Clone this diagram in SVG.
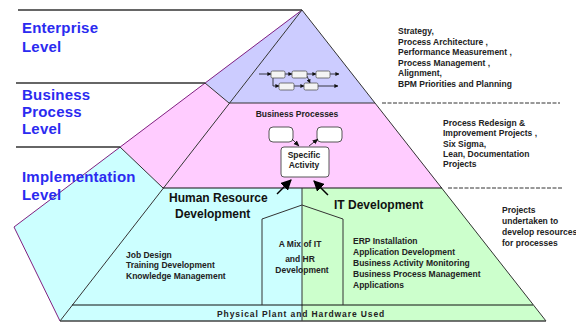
<svg xmlns="http://www.w3.org/2000/svg" width="576" height="322" viewBox="0 0 576 322">
<defs>
<marker id="ah" viewBox="0 0 10 10" refX="9" refY="5" markerWidth="6" markerHeight="6" orient="auto-start-reverse" markerUnits="userSpaceOnUse"><path d="M0,1 L10,5 L0,9 z" fill="#111"/></marker>
<marker id="big" viewBox="0 0 10 10" refX="9" refY="5" markerWidth="11" markerHeight="11" orient="auto" markerUnits="userSpaceOnUse"><path d="M0,0 L10,5 L0,10 z" fill="#000"/></marker>
<marker id="sm" viewBox="0 0 10 10" refX="9" refY="5" markerWidth="4" markerHeight="4" orient="auto" markerUnits="userSpaceOnUse"><path d="M0,0 L10,5 L0,10 z" fill="#111"/></marker>
</defs>
<style>
.lvl{font-family:"Liberation Sans",Arial,sans-serif;font-weight:bold;font-size:15px;fill:#2b2bf0;letter-spacing:0.2px}
.t{font-family:"Liberation Sans",Arial,sans-serif;font-weight:bold;font-size:8.5px;fill:#222}
.big{font-family:"Liberation Sans",Arial,sans-serif;font-weight:bold;font-size:12px;fill:#111}
.edge{fill:none;stroke:#333;stroke-width:1}
.hl{stroke:#333;stroke-width:1.3}
.dash{stroke:#333;stroke-width:1;stroke-dasharray:4,1.5}
.mb{fill:#f4f4f4;stroke:#555;stroke-width:0.8}
.mbl{stroke:#111;stroke-width:0.8;fill:none}
.box{fill:#fff;stroke:#444;stroke-width:0.9}
</style>
<rect width="576" height="322" fill="#fff"/>
<g id="pyramid">
<polygon points="302,10 205,83 229,103" fill="#ccccff"/>
<polygon points="205,83 120,147 163,188 229,103" fill="#ffccff"/>
<polygon points="120,147 14,227 60,321 163,188" fill="#ccffff"/>
<polygon points="302,10 229,103 375,103" fill="#ccccff"/>
<polygon points="229,103 163,188 442,188 375,103" fill="#ffccff"/>
<polygon points="163,188 60,321 302,321 302,188" fill="#ccffff"/>
<polygon points="302,188 302,321 546,321 442,188" fill="#ccffcc"/>
<polyline points="302,10 14,227 60,321" fill="none" stroke="#802080" stroke-width="1"/>
<polyline class="edge" points="302,10 60,321"/>
<polyline class="edge" points="302,10 546,321"/>
<line class="edge" x1="205" y1="83" x2="229" y2="103"/>
<line class="edge" x1="120" y1="147" x2="163" y2="188"/>
<line class="edge" x1="229" y1="103" x2="375" y2="103"/>
<line x1="163" y1="188" x2="442" y2="188" stroke="#111" stroke-width="1.2"/>
<line class="edge" x1="302" y1="188" x2="302" y2="321"/>
<line x1="72" y1="305" x2="533" y2="305" stroke="#111" stroke-width="1"/>
<line x1="60" y1="321" x2="546" y2="321" stroke="#444" stroke-width="1.5"/>
<polyline class="edge" points="262,305 262,219 302,205 343,219 343,305"/>
</g>
<g id="levels">
<line class="hl" x1="18" y1="10" x2="302" y2="10"/>
<line class="hl" x1="16" y1="83" x2="205" y2="83"/>
<line class="hl" x1="16" y1="147" x2="120" y2="147"/>
<line class="dash" x1="382" y1="103" x2="560" y2="103"/>
<line class="dash" x1="448" y1="188" x2="562" y2="188"/>
<text class="lvl" x="22" y="33">Enterprise</text>
<text class="lvl" x="22" y="52">Level</text>
<text class="lvl" x="22" y="100">Business</text>
<text class="lvl" x="22" y="117">Process</text>
<text class="lvl" x="22" y="134">Level</text>
<text class="lvl" x="22" y="182">Implementation</text>
<text class="lvl" x="22" y="200">Level</text>
</g>
<g id="enterprise-process">
<line class="mbl" x1="259" y1="74" x2="271" y2="74" marker-end="url(#sm)"/>
<line class="mbl" x1="285" y1="74" x2="292" y2="74" marker-end="url(#sm)"/>
<line class="mbl" x1="307" y1="74" x2="316" y2="74" marker-end="url(#sm)"/>
<line class="mbl" x1="330" y1="74" x2="339" y2="74" marker-end="url(#sm)"/>
<polyline class="mbl" points="273,74 273,86 279,86" marker-end="url(#sm)"/>
<line class="mbl" x1="294" y1="86" x2="304" y2="86" marker-end="url(#sm)"/>
<line class="mbl" x1="318" y1="86" x2="338" y2="86" marker-end="url(#sm)"/>
<line class="mbl" x1="307" y1="76" x2="310" y2="83" marker-end="url(#sm)"/>
<rect class="mb" x="271" y="71" width="14" height="7" rx="1.5"/>
<rect class="mb" x="292" y="71" width="15" height="7" rx="1.5"/>
<rect class="mb" x="316" y="71" width="14" height="7" rx="1.5"/>
<rect class="mb" x="279" y="83" width="15" height="7" rx="1.5"/>
<rect class="mb" x="304" y="83" width="14" height="7" rx="1.5"/>
</g>
<g id="business-processes">
<text class="t" x="297" y="117" text-anchor="middle" font-size="8">Business Processes</text>
<rect class="box" x="269" y="127" width="24" height="15" rx="4"/>
<rect class="box" x="317" y="127" width="25" height="15" rx="4"/>
</g>
<g id="specific-activity">
<rect class="box" x="281" y="147" width="48" height="30" rx="3"/>
<text class="t" x="304" y="158" text-anchor="middle">Specific</text>
<text class="t" x="304" y="168" text-anchor="middle">Activity</text>
</g>
<g id="connectors">
<line x1="292" y1="139" x2="299" y2="146" stroke="#111" stroke-width="0.8" marker-end="url(#ah)"/>
<line x1="309" y1="146" x2="318" y2="139" stroke="#111" stroke-width="0.8" marker-end="url(#ah)"/>
<line x1="277" y1="194" x2="291" y2="180" stroke="#000" stroke-width="1.5" marker-end="url(#big)"/>
<line x1="328" y1="195" x2="314" y2="181" stroke="#000" stroke-width="1.5" marker-end="url(#big)"/>
</g>
<g id="hr">
<text class="big" x="169" y="202">Human Resource</text>
<text class="big" x="175" y="218">Development</text>
<text class="t" x="126" y="258">Job Design</text>
<text class="t" x="126" y="268">Training Development</text>
<text class="t" x="126" y="279">Knowledge Management</text>
</g>
<g id="it">
<text class="big" x="334" y="209" font-size="13.3">IT  Development</text>
<text class="t" x="353" y="244">ERP Installation</text>
<text class="t" x="353" y="255">Application Development</text>
<text class="t" x="353" y="266">Business Activity Monitoring</text>
<text class="t" x="353" y="277">Business Process Management</text>
<text class="t" x="353" y="288">Applications</text>
</g>
<g id="mix">
<text class="t" x="300" y="247" text-anchor="middle">A Mix of IT</text>
<text class="t" x="300" y="262" text-anchor="middle">and HR</text>
<text class="t" x="302" y="273" text-anchor="middle">Development</text>
</g>
<g id="physical">
<text class="t" x="217" y="317" font-size="10" letter-spacing="0.9">Physical Plant and  Hardware Used</text>
</g>
<g id="notes">
<text class="t" x="398" y="34">Strategy,</text>
<text class="t" x="398" y="45">Process Architecture ,</text>
<text class="t" x="398" y="55">Performance Measurement ,</text>
<text class="t" x="398" y="66">Process Management ,</text>
<text class="t" x="398" y="76">Alignment,</text>
<text class="t" x="398" y="87">BPM Priorities and Planning</text>
<text class="t" x="443" y="126">Process Redesign &amp;</text>
<text class="t" x="443" y="136">Improvement Projects ,</text>
<text class="t" x="443" y="147">Six Sigma,</text>
<text class="t" x="443" y="157">Lean, Documentation</text>
<text class="t" x="443" y="167">Projects</text>
<text class="t" x="502" y="213">Projects</text>
<text class="t" x="502" y="224">undertaken to</text>
<text class="t" x="502" y="235">develop resources</text>
<text class="t" x="502" y="246">for processes</text>
</g>
</svg>
